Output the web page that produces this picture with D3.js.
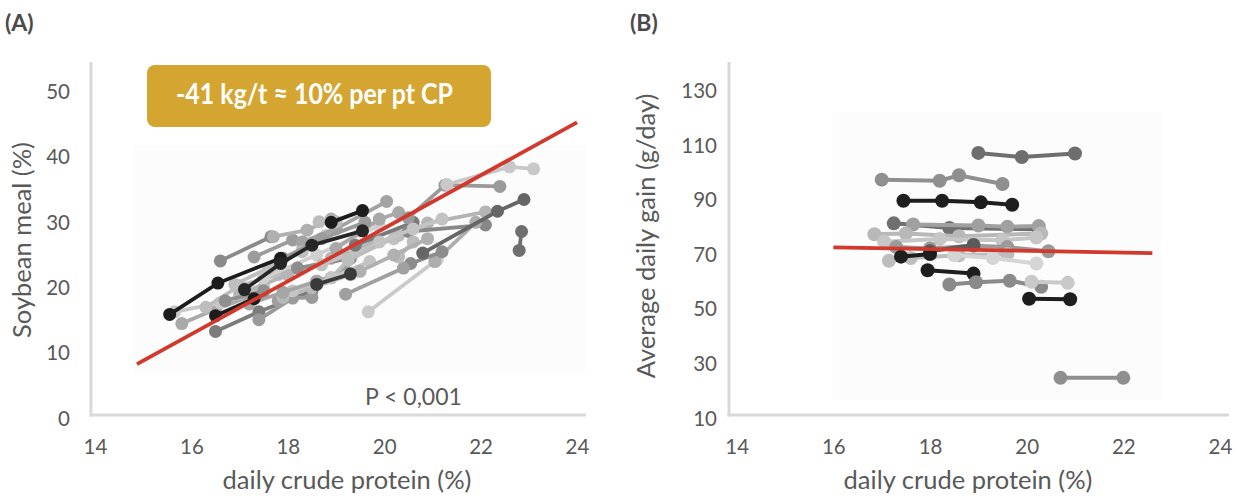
<!DOCTYPE html>
<html>
<head>
<meta charset="utf-8">
<script src="https://cdn.jsdelivr.net/npm/d3@7"></script>
<style>
  html, body { margin: 0; padding: 0; background: #ffffff; }
  svg { display: block; }
  text { font-family: Lato, "Open Sans", sans-serif; }
</style>
</head>
<body>
<svg id="chart" width="1239" height="498"></svg>
<script>
// ---------- Panel A: soybean meal vs daily crude protein ----------
const cpTicks = [14, 16, 18, 20, 22, 24];
const smTicks = [0, 10, 20, 30, 40, 50];

// one entry per study: crude protein (%) and soybean meal (%) per diet phase
const cpA = [
  [15.55, 16.55, 17.85], [15.8, 16.5, 17.4], [15.65, 16.6, 17.5], [16.5, 17.4, 18.5],
  [16.5, 17.3], [17.4, 18.1, 18.5], [16.6, 17.65], [17.1, 17.85, 18.5, 19.55],
  [17.3, 18.1], [16.3, 17.0, 17.8], [17.0, 18.0, 18.9, 19.8], [17.8, 18.6, 19.2],
  [17.5, 18.6, 19.9], [18.2, 19.3], [18.7, 19.4, 20.2], [17.7, 18.4, 18.9],
  [18.3, 18.8], [18.3, 19.0, 20.05], [18.65, 19.0], [18.9, 19.55],
  [18.6, 19.3], [18.9, 19.25, 20.3], [19.0, 19.9, 20.3], [19.4, 20.6],
  [19.67, 21.1], [20.5, 21.26, 22.4], [21.3, 22.6, 23.1], [20.9, 22.1],
  [20.5, 22.1], [21.05, 21.9], [20.55, 21.2], [20.8, 22.35, 22.9],
  [22.8, 22.85], [19.2, 20.4], [20.3, 20.6],
  [17.9, 18.5, 19.3], [18.1, 18.9, 19.7], [17.2, 17.9, 18.6], [19.5, 20.2, 20.9],
  [16.9, 17.6, 18.3], [17.9, 18.7, 19.6], [19.9, 20.6, 21.2], [16.7, 17.5]
];
const smA = [
  [15.4, 20.2, 24.0], [14.0, 16.2, 18.6], [15.8, 17.2, 19.6], [12.8, 15.8, 19.0],
  [15.2, 17.8], [14.6, 17.9, 18.0], [23.6, 27.3], [19.2, 23.2, 26.0, 28.2],
  [24.2, 26.8], [16.5, 19.8, 21.5], [18.5, 21.5, 24.0, 26.5], [17.5, 20.5, 22.0],
  [21.0, 24.5, 29.0], [22.5, 24.0], [23.0, 25.0, 27.0], [27.3, 28.3, 30.0],
  [25.5, 27.5], [26.5, 28.5, 32.7], [29.6, 29.6], [29.5, 31.3],
  [20.0, 21.6], [21.0, 23.7, 27.5], [25.5, 30.0, 31.0], [26.0, 29.5],
  [15.8, 23.8], [30.2, 35.2, 35.0], [35.3, 38.0, 37.7], [29.4, 31.1],
  [28.1, 29.1], [23.5, 29.5], [23.2, 25.0], [24.8, 31.2, 33.0],
  [25.2, 28.1], [18.5, 22.5], [24.2, 26.5],
  [18.0, 19.5, 21.5], [19.0, 21.0, 23.5], [17.0, 18.8, 20.5], [22.0, 24.5, 27.0],
  [20.0, 22.5, 25.0], [24.0, 27.0, 29.5], [26.5, 28.5, 30.0], [17.5, 19.0]
];
// fitted line, panel A
const fitCpA = [14.87, 24.0];
const fitSmA = [7.8, 44.8];

// ---------- Panel B: average daily gain vs daily crude protein ----------
const adgTicks = [10, 30, 50, 70, 90, 110, 130];
const cpB = [
  [19.0, 19.9, 21.0], [17.0, 18.2, 18.6, 19.5], [17.45, 18.25, 19.05, 19.7],
  [17.25, 18.4, 20.25], [17.65, 19.0, 19.6, 20.25], [16.85, 17.5, 18.6, 20.3],
  [17.05, 18.2, 19.5, 20.2], [17.3, 18.0, 18.9, 19.6, 20.45], [18.0, 18.9],
  [17.15, 17.6, 18.6, 19.6], [17.4, 18.0], [18.5, 19.3, 20.2],
  [17.95, 18.9], [18.4, 18.95, 19.65, 20.3], [20.1, 20.85], [20.05, 20.9],
  [20.7, 22.0]
];
const adgB = [
  [106.0, 104.5, 105.8], [96.2, 95.8, 97.8, 94.6], [88.5, 88.5, 87.9, 87.0],
  [80.2, 78.5, 78.0], [79.8, 79.4, 79.0, 79.2], [76.2, 76.5, 75.5, 76.5],
  [73.5, 74.5, 74.0, 75.0], [71.5, 71.0, 72.0, 71.5, 70.0], [70.0, 72.3],
  [66.5, 67.5, 68.5, 69.0], [68.0, 69.0], [68.5, 67.5, 65.5],
  [63.0, 61.8], [57.8, 58.6, 59.2, 57.0], [58.8, 58.4], [52.6, 52.4],
  [23.6, 23.6]
];
// fitted line, panel B
const fitCpB = [16.0, 22.6];
const fitAdgB = [71.4, 69.3];

// grey tone of each study
const toneA = [
  "#1c1c1c", "#a9a9a9", "#c9c9c9", "#7c7c7c", "#1c1c1c", "#9a9a9a", "#8a8a8a", "#262626",
  "#9c9c9c", "#bdbdbd", "#b5b5b5", "#9e9e9e", "#d0d0d0", "#8d8d8d", "#c2c2c2", "#b0b0b0",
  "#c8c8c8", "#a3a3a3", "#bcbcbc", "#1c1c1c", "#3a3a3a", "#bdbdbd", "#a8a8a8", "#7a7a7a",
  "#cacaca", "#9a9a9a", "#c8c8c8", "#b4b4b4", "#888888", "#adadad", "#8c8c8c", "#666666",
  "#6f6f6f", "#a0a0a0", "#bbbbbb",
  "#b8b8b8", "#c4c4c4", "#a5a5a5", "#b0b0b0", "#bfbfbf", "#9b9b9b", "#c3c3c3", "#8f8f8f"
];
const toneB = [
  "#6e6e6e", "#8f8f8f", "#1e1e1e", "#707070", "#a0a0a0", "#b8b8b8", "#c6c6c6",
  "#9a9a9a", "#5a5a5a", "#bdbdbd", "#1e1e1e", "#d5d5d5", "#1e1e1e", "#8a8a8a",
  "#c9c9c9", "#1e1e1e", "#8f8f8f"
];

// study drawing order: keep dark studies of panel A on top of the light band
const orderA = d3.range(cpA.length).sort((a, b) =>
  d3.descending(d3.hsl(toneA[a]).l > 0.3 ? 1 : 0, d3.hsl(toneA[b]).l > 0.3 ? 1 : 0) || a - b);

const TEXT = "#595959";
const AXIS = "#d9d9d9";
const FIT = "#d0392b";

const svg = d3.select("#chart");

function panel(cfg) {
  const g = svg.append("g");
  const x = d3.scaleLinear().domain([14, 24]).range(cfg.xRange);
  const y = d3.scaleLinear().domain(cfg.yDomain).range(cfg.yRange);

  // faint plot-area backdrop
  g.append("rect")
    .attr("x", cfg.back[0]).attr("y", cfg.back[1])
    .attr("width", cfg.back[2]).attr("height", cfg.back[3])
    .attr("fill", "#fcfcfc");

  // axis lines
  g.append("line")
    .attr("x1", cfg.axisX).attr("x2", cfg.axisX)
    .attr("y1", 62).attr("y2", y(cfg.yDomain[0]) + 1.5)
    .attr("stroke", AXIS).attr("stroke-width", 3);
  g.append("line")
    .attr("x1", cfg.axisX - 1.5).attr("x2", cfg.axisRight)
    .attr("y1", y(cfg.yDomain[0])).attr("y2", y(cfg.yDomain[0]))
    .attr("stroke", AXIS).attr("stroke-width", 3);

  // tick labels
  const ya = g.append("g")
    .attr("transform", `translate(${cfg.axisX},0)`)
    .call(d3.axisLeft(y).tickValues(cfg.yTicks).tickSize(0).tickPadding(cfg.yPad));
  ya.select(".domain").remove();
  ya.selectAll("text").attr("fill", TEXT).attr("font-size", 20.5)
    .attr("font-family", "Lato, 'Open Sans', sans-serif").attr("y", 3.5);

  const xa = g.append("g")
    .attr("transform", `translate(0,${y(cfg.yDomain[0])})`)
    .call(d3.axisBottom(x).tickValues(cpTicks).tickSize(0));
  xa.select(".domain").remove();
  xa.selectAll("text").attr("fill", TEXT).attr("font-size", 20.5)
    .attr("font-family", "Lato, 'Open Sans', sans-serif")
    .attr("y", 39).attr("dy", null);

  // axis titles
  g.append("text")
    .attr("transform", `translate(${cfg.yTitlePos[0]},${cfg.yTitlePos[1]}) rotate(-90)`)
    .attr("text-anchor", "middle").attr("dy", "0.35em")
    .attr("fill", TEXT).attr("font-size", 25.5)
    .text(cfg.yTitle);
  g.append("text")
    .attr("x", cfg.xTitleX).attr("y", 489)
    .attr("text-anchor", "middle")
    .attr("fill", TEXT).attr("font-size", 25.5)
    .text("daily crude protein (%)");

  // panel letter
  g.append("text")
    .attr("x", cfg.letterX).attr("y", 31)
    .attr("fill", "#4a4a4a").attr("font-size", 23).attr("font-weight", 700)
    .text(cfg.letter);

  // studies
  const line = d3.line().x(d => x(d[0])).y(d => y(d[1]));
  cfg.order.forEach(i => {
    const pts = cfg.xs[i].map((v, j) => [v, cfg.ys[i][j]]);
    const s = g.append("g");
    s.append("path").attr("d", line(pts))
      .attr("fill", "none").attr("stroke", cfg.tones[i])
      .attr("stroke-width", cfg.lw).attr("stroke-linecap", "round");
    s.selectAll("circle").data(pts).join("circle")
      .attr("cx", d => x(d[0])).attr("cy", d => y(d[1]))
      .attr("r", cfg.r).attr("fill", cfg.tones[i]);
  });

  // regression line
  g.append("path")
    .attr("d", line(cfg.fitX.map((v, j) => [v, cfg.fitY[j]])))
    .attr("fill", "none").attr("stroke", FIT).attr("stroke-width", 3.8);

  return { g, x, y };
}

const A = panel({
  xRange: [95, 577], yDomain: [0, 50], yRange: [415, 88.5], yTicks: smTicks,
  axisX: 91, axisRight: 586, yPad: 21, back: [133, 145, 452, 227],
  yTitle: "Soybean meal (%)", yTitlePos: [22, 240], xTitleX: 347,
  letter: "(A)", letterX: 5,
  xs: cpA, ys: smA, tones: toneA, order: orderA, r: 6.5, lw: 3.8,
  fitX: fitCpA, fitY: fitSmA
});

const B = panel({
  xRange: [736.7, 1220], yDomain: [10, 130], yRange: [415, 87.4], yTicks: adgTicks,
  axisX: 729, axisRight: 1229, yPad: 12, back: [833, 112, 328, 288],
  yTitle: "Average daily gain (g/day)", yTitlePos: [646, 236], xTitleX: 968,
  letter: "(B)", letterX: 630,
  xs: cpB, ys: adgB, tones: toneB, order: d3.range(cpB.length), r: 7, lw: 4,
  fitX: fitCpB, fitY: fitAdgB
});

// annotation box, panel A
const box = A.g.append("g");
box.append("rect")
  .attr("x", 147).attr("y", 65).attr("width", 344).attr("height", 62)
  .attr("rx", 8).attr("fill", "#d4a631");
const label = box.append("text")
  .attr("x", 176).attr("y", 104)
  .attr("fill", "#ffffff").attr("font-size", 28).attr("font-weight", 700)
  .text("-41 kg/t ≈ 10% per pt CP");
if (label.node().getComputedTextLength() > 277) {
  label.attr("textLength", 277).attr("lengthAdjust", "spacingAndGlyphs");
}

// significance note, panel A
A.g.append("text")
  .attr("x", 365).attr("y", 405)
  .attr("fill", TEXT).attr("font-size", 23)
  .text("P < 0,001");
</script>
</body>
</html>
